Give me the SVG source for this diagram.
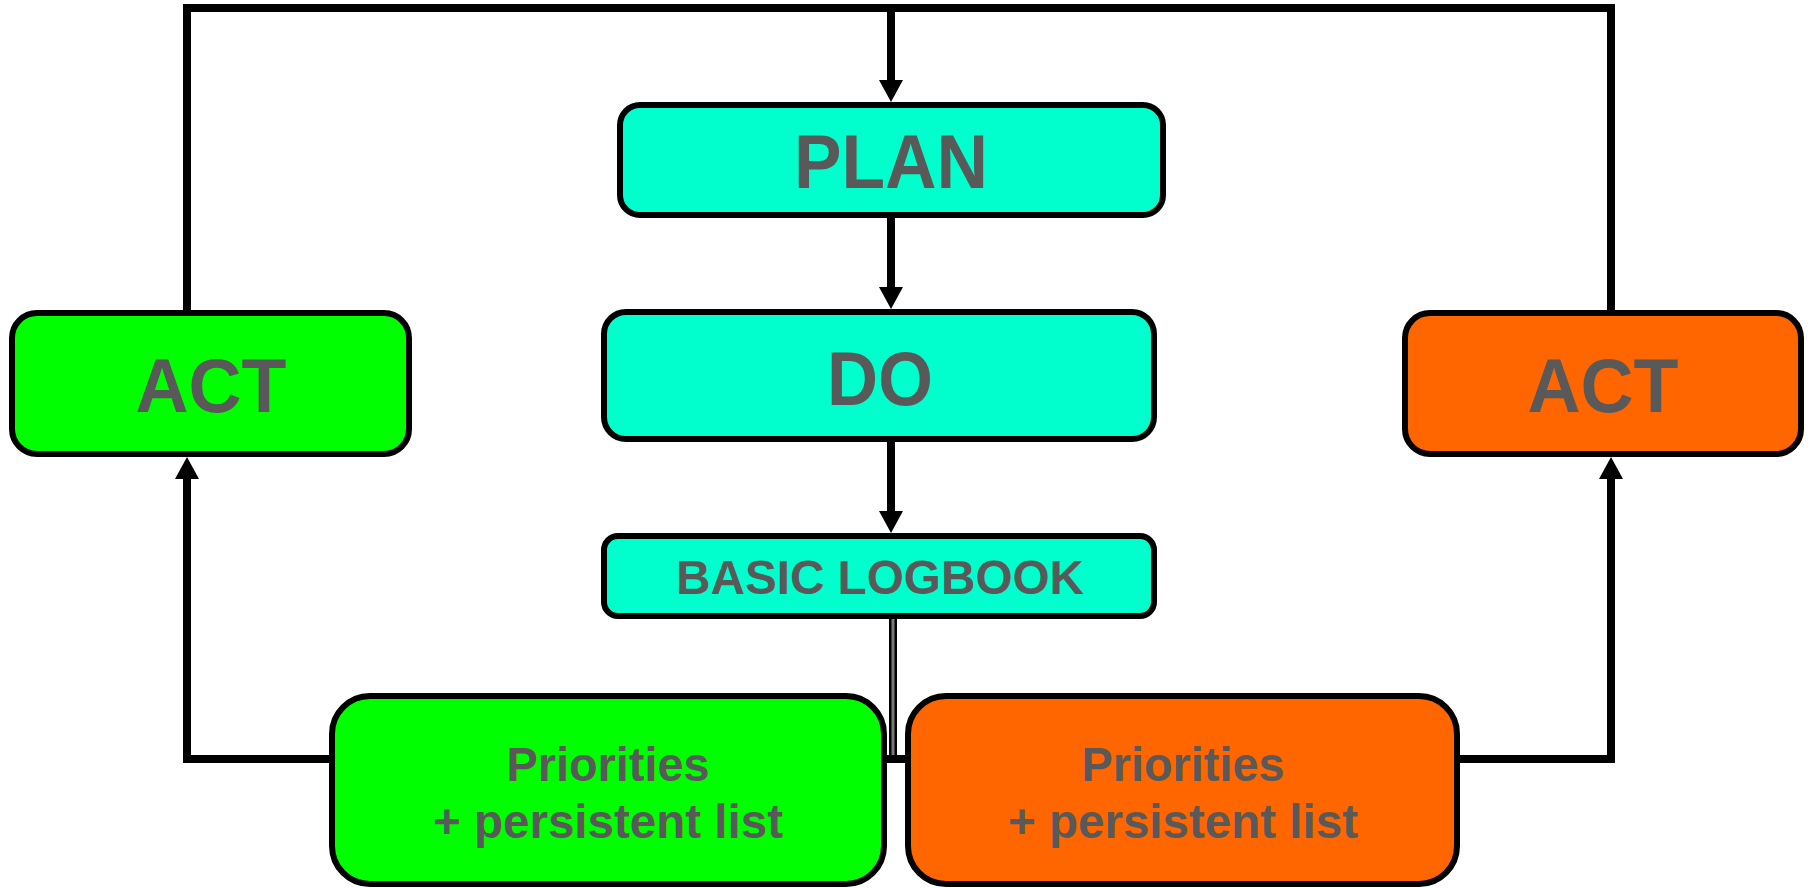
<svg xmlns="http://www.w3.org/2000/svg" width="1810" height="888" viewBox="0 0 1810 888">
  <defs>
    <marker id="arr" viewBox="0 0 22 24" refX="0" refY="12" markerWidth="22" markerHeight="24" markerUnits="userSpaceOnUse" orient="auto">
      <path d="M0,0 L22,12 L0,24 Z" fill="#000"/>
    </marker>
  </defs>
  <style>
    .box { stroke: #000; stroke-width: 6; }
    .cyan { fill: #00FFCC; }
    .green { fill: #00FF00; }
    .orange { fill: #FF6600; }
    .lbl { font-family: "Liberation Sans", Arial, sans-serif; font-weight: bold; fill: #595959; text-anchor: middle; }
    .big { font-size: 76px; }
    .mid { font-size: 48px; }
    .conn { stroke: #000; stroke-width: 8; fill: none; }
  </style>
  <rect width="1810" height="888" fill="#fff"/>

  <g id="connectors">
    <path class="conn" d="M187,310 L187,8 L1611,8 L1611,310"/>
    <line class="conn" x1="891" y1="8" x2="891" y2="80" marker-end="url(#arr)"/>
    <line class="conn" x1="891" y1="218" x2="891" y2="287" marker-end="url(#arr)"/>
    <line class="conn" x1="891" y1="442" x2="891" y2="511" marker-end="url(#arr)"/>
    <line x1="893" y1="619" x2="893" y2="757" stroke="#000" stroke-width="8"/>
    <line x1="893" y1="619" x2="893" y2="757" stroke="#7a7a7a" stroke-width="3"/>
    <path class="conn" d="M332,759 L187,759 L187,479" marker-end="url(#arr)"/>
    <line class="conn" x1="884" y1="759" x2="908" y2="759"/>
    <path class="conn" d="M1457,759 L1611,759 L1611,479" marker-end="url(#arr)"/>
  </g>

  <g id="plan">
    <rect class="box cyan" x="620" y="105" width="543" height="110" rx="20"/>
    <text class="lbl big" x="891" y="188" textLength="194" lengthAdjust="spacingAndGlyphs">PLAN</text>
  </g>
  <g id="do">
    <rect class="box cyan" x="604" y="312" width="550" height="127" rx="22"/>
    <text class="lbl big" x="880" y="405" textLength="106" lengthAdjust="spacingAndGlyphs">DO</text>
  </g>
  <g id="logbook">
    <rect class="box cyan" x="604" y="536" width="550" height="80" rx="14"/>
    <text class="lbl mid" x="880" y="594" textLength="408" lengthAdjust="spacingAndGlyphs">BASIC LOGBOOK</text>
  </g>
  <g id="act-left">
    <rect class="box green" x="12" y="313" width="397" height="141" rx="25"/>
    <text class="lbl big" x="211" y="412" textLength="151" lengthAdjust="spacingAndGlyphs">ACT</text>
  </g>
  <g id="act-right">
    <rect class="box orange" x="1405" y="313" width="396" height="141" rx="25"/>
    <text class="lbl big" x="1603" y="412" textLength="151" lengthAdjust="spacingAndGlyphs">ACT</text>
  </g>
  <g id="priorities-left">
    <rect class="box green" x="332" y="696" width="552" height="188" rx="38"/>
    <text class="lbl mid" x="608" y="781" textLength="203" lengthAdjust="spacingAndGlyphs">Priorities</text>
    <text class="lbl mid" x="608" y="838" textLength="350" lengthAdjust="spacingAndGlyphs">+ persistent list</text>
  </g>
  <g id="priorities-right">
    <rect class="box orange" x="908" y="696" width="549" height="188" rx="38"/>
    <text class="lbl mid" x="1183" y="781" textLength="203" lengthAdjust="spacingAndGlyphs">Priorities</text>
    <text class="lbl mid" x="1183" y="838" textLength="350" lengthAdjust="spacingAndGlyphs">+ persistent list</text>
  </g>
</svg>
